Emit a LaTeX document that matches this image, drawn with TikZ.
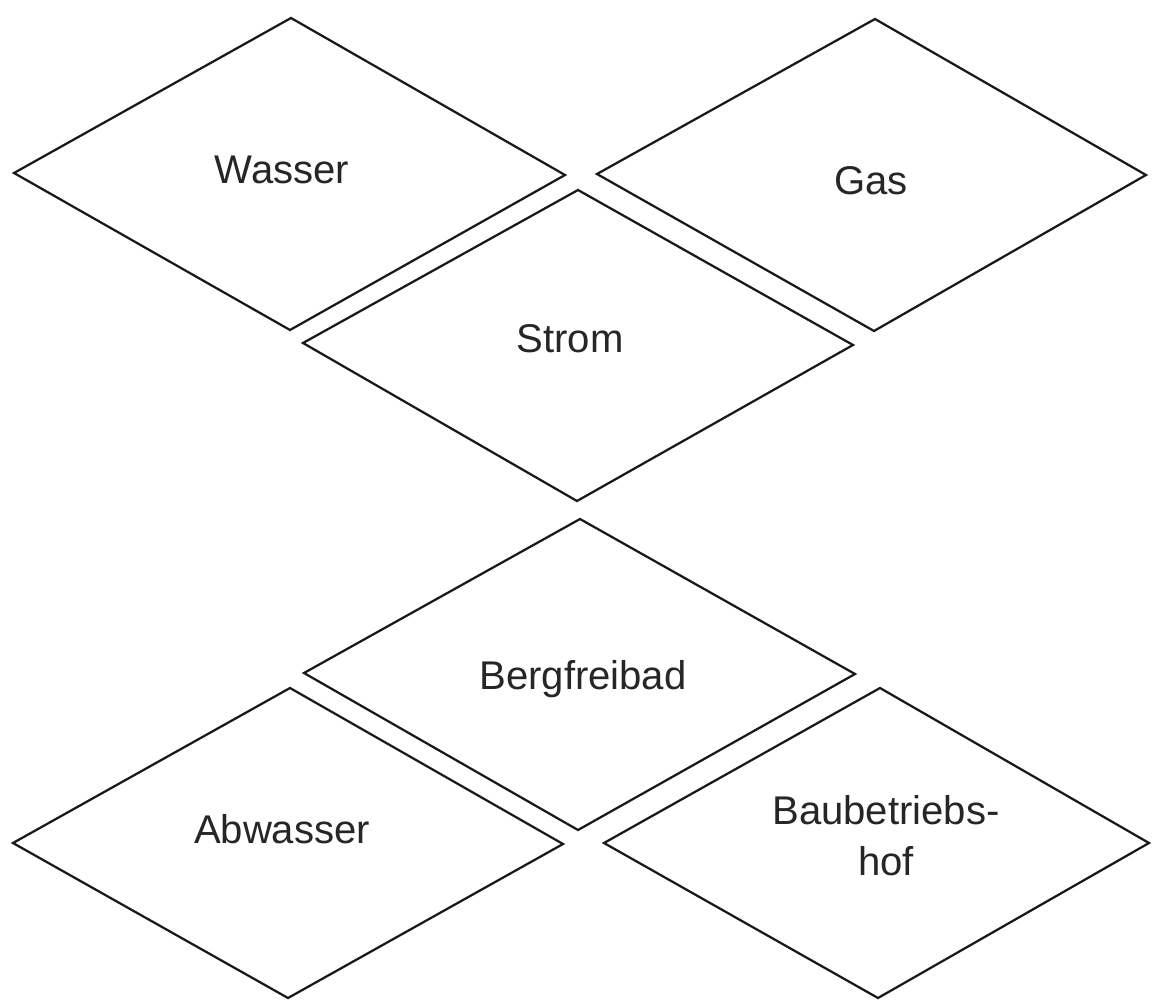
\documentclass[tikz,border=0pt]{standalone}
\usepackage{fontspec}
\setmainfont{Liberation Sans}
\begin{document}
\begin{tikzpicture}[x=0.025cm,y=-0.025cm,
  field/.style={draw=black!90,line width=1.6pt,line join=miter},
  label/.style={anchor=base,inner sep=0pt,text=black!85,font=\fontsize{28.5}{35.6}\selectfont,align=center}]
\useasboundingbox[fill=white] (0,0) rectangle (1152,1000);
% Wasser
\draw[field] (14,173) -- (291,18) -- (565,175) -- (290,330) -- cycle;
\node[label] (wasser) at (282,183) {Wasser};
% Gas
\draw[field] (597,174) -- (875,19) -- (1146,175) -- (874,331) -- cycle;
\node[label] (gas) at (871,194) {Gas};
% Strom
\draw[field] (303,343) -- (578,190) -- (853,345) -- (577,501) -- cycle;
\node[label] (strom) at (570,352) {Strom};
% Bergfreibad
\draw[field] (304,673) -- (580,519) -- (855,674) -- (578,830) -- cycle;
\node[label] (bergfreibad) at (583,689) {Bergfreibad};
% Abwasser
\draw[field] (13,843) -- (290,688) -- (563,844) -- (288,998) -- cycle;
\node[label] (abwasser) at (282,843) {Abwasser};
% Baubetriebshof
\draw[field] (604,843) -- (880,688) -- (1149,843) -- (878,998) -- cycle;
\node[label] (baubetriebshof) at (886,875) {Baubetriebs-\\hof};
\end{tikzpicture}
\end{document}
